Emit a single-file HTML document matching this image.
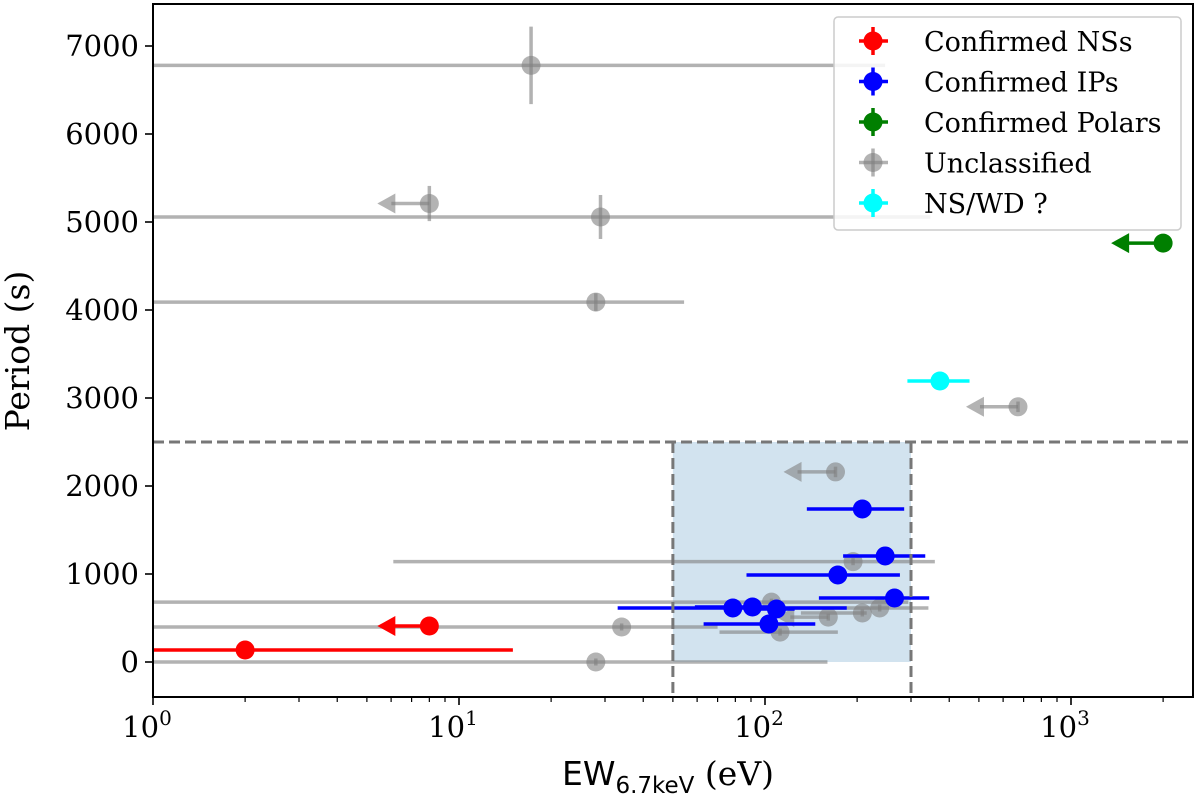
<!DOCTYPE html>
<html><head><meta charset="utf-8"><style>
body{margin:0;background:#fff;}
svg text{font-family:"DejaVu Serif","Liberation Serif",serif;}
</style></head><body>
<svg id="chart" width="1200" height="798" xmlns="http://www.w3.org/2000/svg">
<g id="plot"></g>
</svg>
<script>
// data arrays
const nsEW=[2,8], nsP=[136,409], nsLo=[1,null], nsHi=[15,null], nsUL=[false,true];
const ipEW=[208,247,173,265,78.5,91,109,103];
const ipP=[1739,1205,989,727,614,625,602,432];
const ipLo=[137,180,87,150,33,59,95,63];
const ipHi=[285,334,276,344,185,112,125,146];
const polEW=[2000], polP=[4760];
const cyEW=[373], cyP=[3193], cyLo=[292], cyHi=[466];
const unEW=[17.2,8,29,28,671,170,194,105,34,28,112,161,208,237];
const unP=[6780,5210,5057,4090,2900,2160,1140,680,398,0,340,510,557,614];
const unLo=[0.5,null,0.5,0.5,null,null,6.1,0.5,0.5,0.5,71,null,131,120];
const unHi=[247,null,347,54.4,null,null,359,294,70,160,173,null,215,342];
const unPerr=[440,200,250,100,60,60,40,40,40,40,40,40,40,40];
const unUL=[false,true,false,false,true,true,false,false,false,false,false,true,false,false];
const xTicks=[1,10,100,1000], xTickLbl=['0','1','2','3'];
const yTicks=[0,1000,2000,3000,4000,5000,6000,7000];

const L=153,R=1193,T=4,B=697;
const X=v=>L+Math.log10(v)*306;
const Y=v=>662-v*0.088;
const NS='http://www.w3.org/2000/svg';
const g=document.getElementById('plot');
function mk(tag,at,parent){const e=document.createElementNS(NS,tag);for(const k in at)e.setAttribute(k,at[k]);(parent||g).appendChild(e);return e;}
const clip=mk('clipPath',{id:'cp'});mk('rect',{x:L,y:T,width:R-L,height:B-T},clip);
const pg=mk('g',{'clip-path':'url(#cp)'});

let e=mk('rect',{x:X(50),y:Y(2500),width:X(300)-X(50),height:Y(0)-Y(2500),fill:'#d2e3ef'},pg);



function arrow(x,y,col,op,par){
  const ax=x-52;
  mk('line',{x1:x,y1:y,x2:ax+14,y2:y,stroke:col,'stroke-width':3.5,opacity:op},par);
  mk('polygon',{points:`${ax},${y} ${ax+18},${y-10} ${ax+18},${y+10}`,fill:col,opacity:op},par);
}
function pts(EW,P,Lo,Hi,UL,col,op,name,Perr){
  for(let i=0;i<EW.length;i++){
    const gg=mk('g',{},pg);
    
    
    const x=X(EW[i]),y=Y(P[i]);
    if(UL&&UL[i]){arrow(x,y,col,op,gg);}
    else if(Lo&&Lo[i]!=null){mk('line',{x1:X(Lo[i]),y1:y,x2:X(Hi[i]),y2:y,stroke:col,'stroke-width':3.5,opacity:op},gg);}
    if(Perr&&Perr[i]){mk('line',{x1:x,y1:Y(P[i]-Perr[i]),x2:x,y2:Y(P[i]+Perr[i]),stroke:col,'stroke-width':3.5,opacity:op},gg);}
    mk('circle',{cx:x,cy:y,r:9.5,fill:col,opacity:op},gg);
  }
}
pts(unEW,unP,unLo,unHi,unUL,'#808080',0.6,'unclassified',unPerr);
pts(nsEW,nsP,nsLo,nsHi,nsUL,'#ff0000',1,'confirmed-ns');
pts(ipEW,ipP,ipLo,ipHi,null,'#0000ff',1,'confirmed-ip');
pts(polEW,polP,null,null,[true],'#007f00',1,'confirmed-polar',[60]);
pts(cyEW,cyP,cyLo,cyHi,null,'#00ffff',1,'ns-wd',[40]);

e=mk('line',{x1:L,y1:Y(2500),x2:R,y2:Y(2500),stroke:'#777','stroke-width':3,'stroke-dasharray':'11,5'});


[50,300].forEach(v=>{const l=mk('line',{x1:X(v),y1:Y(2500),x2:X(v),y2:B,stroke:'#777','stroke-width':3,'stroke-dasharray':'11,5'});

});

e=mk('rect',{x:L,y:T,width:R-L,height:B-T,fill:'none',stroke:'#000','stroke-width':2});



// x ticks
for(let d=0;d<4;d++){for(let m=1;m<10;m++){const v=Math.pow(10,d)*m;const x=X(v);if(x>R)break;
 mk('line',{x1:x,y1:B,x2:x,y2:B+(m==1?8:5),stroke:'#000','stroke-width':m==1?1.6:1.2});}}
xTicks.forEach((v,i)=>{const t=mk('text',{x:X(v)-6,y:B+40,'text-anchor':'middle','font-size':29});
 
 
 t.innerHTML='10<tspan dy="-12" font-size="20">'+xTickLbl[i]+'</tspan>';});
yTicks.forEach(v=>{mk('line',{x1:L-8,y1:Y(v),x2:L,y2:Y(v),stroke:'#000','stroke-width':1.6});
 const t=mk('text',{x:L-14,y:Y(v)+10,'text-anchor':'end','font-size':29});t.textContent=v;
 
 });

let t=mk('text',{x:668,y:785,'text-anchor':'middle','font-size':33});


t.innerHTML='<tspan font-family="DejaVu Sans, sans-serif">EW</tspan><tspan dy="8" font-size="23" font-family="DejaVu Sans, sans-serif">6.7keV</tspan><tspan dy="-8"> (eV)</tspan>';
t=mk('text',{x:0,y:0,'text-anchor':'middle','font-size':33,transform:'translate(29,351) rotate(-90)'});
t.textContent='Period (s)';



// legend
const lg=mk('g',{});


mk('rect',{x:834,y:17,width:347,height:213,rx:4,fill:'#fff','fill-opacity':0.85,stroke:'#ccc','stroke-width':1.5},lg);
const legLbl=['Confirmed NSs','Confirmed IPs','Confirmed Polars','Unclassified','NS/WD ?'];
const legCol=['#ff0000','#0000ff','#007f00','#808080','#00ffff'];
legLbl.forEach((s,i)=>{const y=41+i*40.5;const op=i==3?0.6:1;
 const eg=mk('g',{},lg);
 
 
 mk('line',{x1:859,y1:y,x2:888,y2:y,stroke:legCol[i],'stroke-width':3.5,opacity:op},eg);
 mk('line',{x1:873,y1:y-14,x2:873,y2:y+14,stroke:legCol[i],'stroke-width':3.5,opacity:op},eg);
 mk('circle',{cx:873,cy:y,r:9.5,fill:legCol[i],opacity:op},eg);
 const tt=mk('text',{x:924,y:y+10,'font-size':27},eg);tt.textContent=s;});
</script>
</body></html>
